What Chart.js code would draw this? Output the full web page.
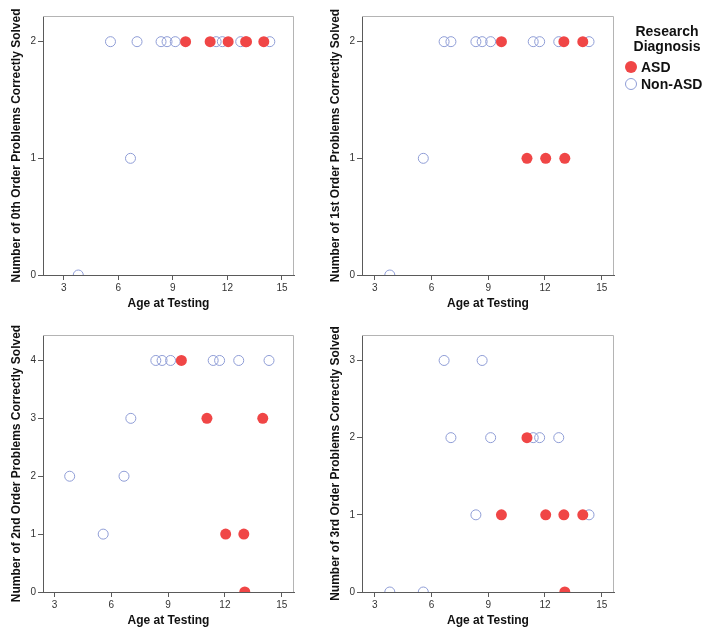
<!DOCTYPE html>
<html>
<head>
<meta charset="utf-8">
<script src="https://cdn.jsdelivr.net/npm/chart.js@4/dist/chart.umd.min.js"></script>
<style>
  html, body { margin:0; padding:0; background:#fff; }
  body { width:716px; height:637px; position:relative; overflow:hidden; font-family:"Liberation Sans", Arial, sans-serif; }
  .pane { position:absolute; }
  #legend { position:absolute; left:614px; top:24px; width:106px; color:#111; }
  #legend .t { text-align:center; font-weight:bold; font-size:14px; line-height:15px; }
  #legend .item { position:absolute; left:11px; font-weight:bold; font-size:14px; line-height:16px; white-space:nowrap; }
  #legend .dot { display:inline-block; width:12px; height:12px; border-radius:50%; box-sizing:border-box; vertical-align:-1px; margin-right:4px; }
</style>
</head>
<body>
<div class="pane" style="left:0;top:0;width:310px;height:318px"><canvas id="c0"></canvas></div>
<div class="pane" style="left:310px;top:0;width:310px;height:318px"><canvas id="c1"></canvas></div>
<div class="pane" style="left:0;top:318px;width:310px;height:319px"><canvas id="c2"></canvas></div>
<div class="pane" style="left:310px;top:318px;width:310px;height:319px"><canvas id="c3"></canvas></div>
<div id="legend">
  <div class="t">Research</div>
  <div class="t">Diagnosis</div>
  <div class="item" style="top:35px"><span class="dot" style="background:#f04646"></span>ASD</div>
  <div class="item" style="top:52px"><span class="dot" style="border:1px solid #8f9dd6"></span>Non-ASD</div>
</div>
<script>
// ---- data ----
const groups = ["ASD", "Non-ASD"];
const asdAge    = [9.7, 11.05, 12.04, 13.0, 13.05, 14.0];
const asd0th    = [2, 2, 2, 2, 2, 2];
const asd1st    = [2, 1, 1, 2, 1, 2];
const asd2nd    = [4, 3, 1, 1, 0, 3];
const asd3rd    = [1, 2, 1, 1, 0, 1];

const nonAsdAge = [3.8, 5.57, 6.67, 7.03, 8.35, 8.68, 9.13, 11.38, 11.72, 12.73, 14.33];
const non0th    = [0, 2, 1, 2, 2, 2, 2, 2, 2, 2, 2];
const non1st    = [0, 1, 2, 2, 2, 2, 2, 2, 2, 2, 2];
const non2nd    = [2, 1, 2, 3, 4, 4, 4, 4, 4, 4, 4];
const non3rd    = [0, 0, 3, 2, 1, 3, 2, 2, 2, 2, 1];

const xTicks  = [3, 6, 9, 12, 15];
const yTicks0 = [0, 1, 2];
const yTicks1 = [0, 1, 2];
const yTicks2 = [0, 1, 2, 3, 4];
const yTicks3 = [0, 1, 2, 3];

const yTitles = [
  "Number of 0th Order Problems Correctly Solved",
  "Number of 1st Order Problems Correctly Solved",
  "Number of 2nd Order Problems Correctly Solved",
  "Number of 3rd Order Problems Correctly Solved"
];
const xTitle = "Age at Testing";

// ---- helpers ----
const pts = (xs, ys) => xs.map((x, i) => ({ x: x, y: ys[i] }));

const frame = {
  id: 'frame',
  beforeDatasetsDraw(chart) {
    const a = chart.chartArea, ctx = chart.ctx;
    ctx.save();
    ctx.strokeStyle = '#b4b4b4';
    ctx.lineWidth = 1;
    ctx.beginPath();
    ctx.moveTo(a.left, a.top + 0.5);
    ctx.lineTo(a.right - 0.5, a.top + 0.5);
    ctx.lineTo(a.right - 0.5, a.bottom);
    ctx.stroke();
    ctx.restore();
  }
};

function makeChart(id, cfg) {
  const tickFont = { family: "Liberation Sans", size: 10 };
  const titleFont = { family: "Liberation Sans", size: 12, weight: "bold" };
  new Chart(document.getElementById(id), {
    type: 'scatter',
    data: {
      datasets: [
        { label: groups[0], data: pts(asdAge, cfg.asd), pointRadius: 5.5, pointBorderWidth: 0,
          pointBackgroundColor: '#f04646', pointBorderColor: '#f04646', clip: 0 },
        { label: groups[1], data: pts(nonAsdAge, cfg.non), pointRadius: 5, pointBorderWidth: 1,
          pointBackgroundColor: 'rgba(255,255,255,0)', pointBorderColor: '#8f9dd6', clip: 0 }
      ]
    },
    options: {
      responsive: true, maintainAspectRatio: false, animation: false,
      layout: { padding: { top: cfg.padTop, right: cfg.padRight, left: 0, bottom: 0 } },
      plugins: { legend: { display: false }, tooltip: { enabled: false } },
      scales: {
        x: {
          type: 'linear', min: cfg.xMin, max: cfg.xMax,
          afterBuildTicks: s => { s.ticks = xTicks.map(v => ({ value: v })); },
          afterFit: s => { s.height = cfg.xH; },
          border: { display: true, color: '#5a5a5a', width: 1 },
          grid: { drawOnChartArea: false, drawTicks: true, tickLength: 5, color: '#5a5a5a' },
          ticks: { font: tickFont, color: '#333', padding: 2, maxRotation: 0 },
          title: { display: true, text: xTitle, font: titleFont, color: '#111',
                   padding: { top: 0, bottom: cfg.xTitlePad } }
        },
        y: {
          type: 'linear', min: 0, max: cfg.yMax,
          afterBuildTicks: s => { s.ticks = cfg.yTicks.map(v => ({ value: v })); },
          afterFit: s => { s.width = cfg.yW; },
          border: { display: true, color: '#5a5a5a', width: 1 },
          grid: { drawOnChartArea: false, drawTicks: true, tickLength: 5, color: '#5a5a5a' },
          ticks: { font: tickFont, color: '#333', padding: 2 },
          title: { display: true, text: cfg.yTitle, font: titleFont, color: '#111',
                   padding: { top: cfg.yTitlePad, bottom: 0 } }
        }
      }
    },
    plugins: [frame]
  });
}

makeChart('c0', { asd: asd0th, non: non0th, xMin: 1.86, xMax: 15.66, yMax: 2.22, yTicks: yTicks0,
  yTitle: yTitles[0], padTop: 16, padRight: 16, xH: 43, yW: 43, xTitlePad: 7, yTitlePad: 9 });
makeChart('c1', { asd: asd1st, non: non1st, xMin: 2.33, xMax: 15.65, yMax: 2.22, yTicks: yTicks1,
  yTitle: yTitles[1], padTop: 16, padRight: 6, xH: 43, yW: 52, xTitlePad: 7, yTitlePad: 18.5 });
makeChart('c2', { asd: asd2nd, non: non2nd, xMin: 2.39, xMax: 15.65, yMax: 4.44, yTicks: yTicks2,
  yTitle: yTitles[2], padTop: 17, padRight: 16, xH: 45, yW: 43, xTitlePad: 9.5, yTitlePad: 9 });
makeChart('c3', { asd: asd3rd, non: non3rd, xMin: 2.33, xMax: 15.65, yMax: 3.33, yTicks: yTicks3,
  yTitle: yTitles[3], padTop: 17, padRight: 6, xH: 45, yW: 52, xTitlePad: 9.5, yTitlePad: 18.5 });
</script>
</body>
</html>
